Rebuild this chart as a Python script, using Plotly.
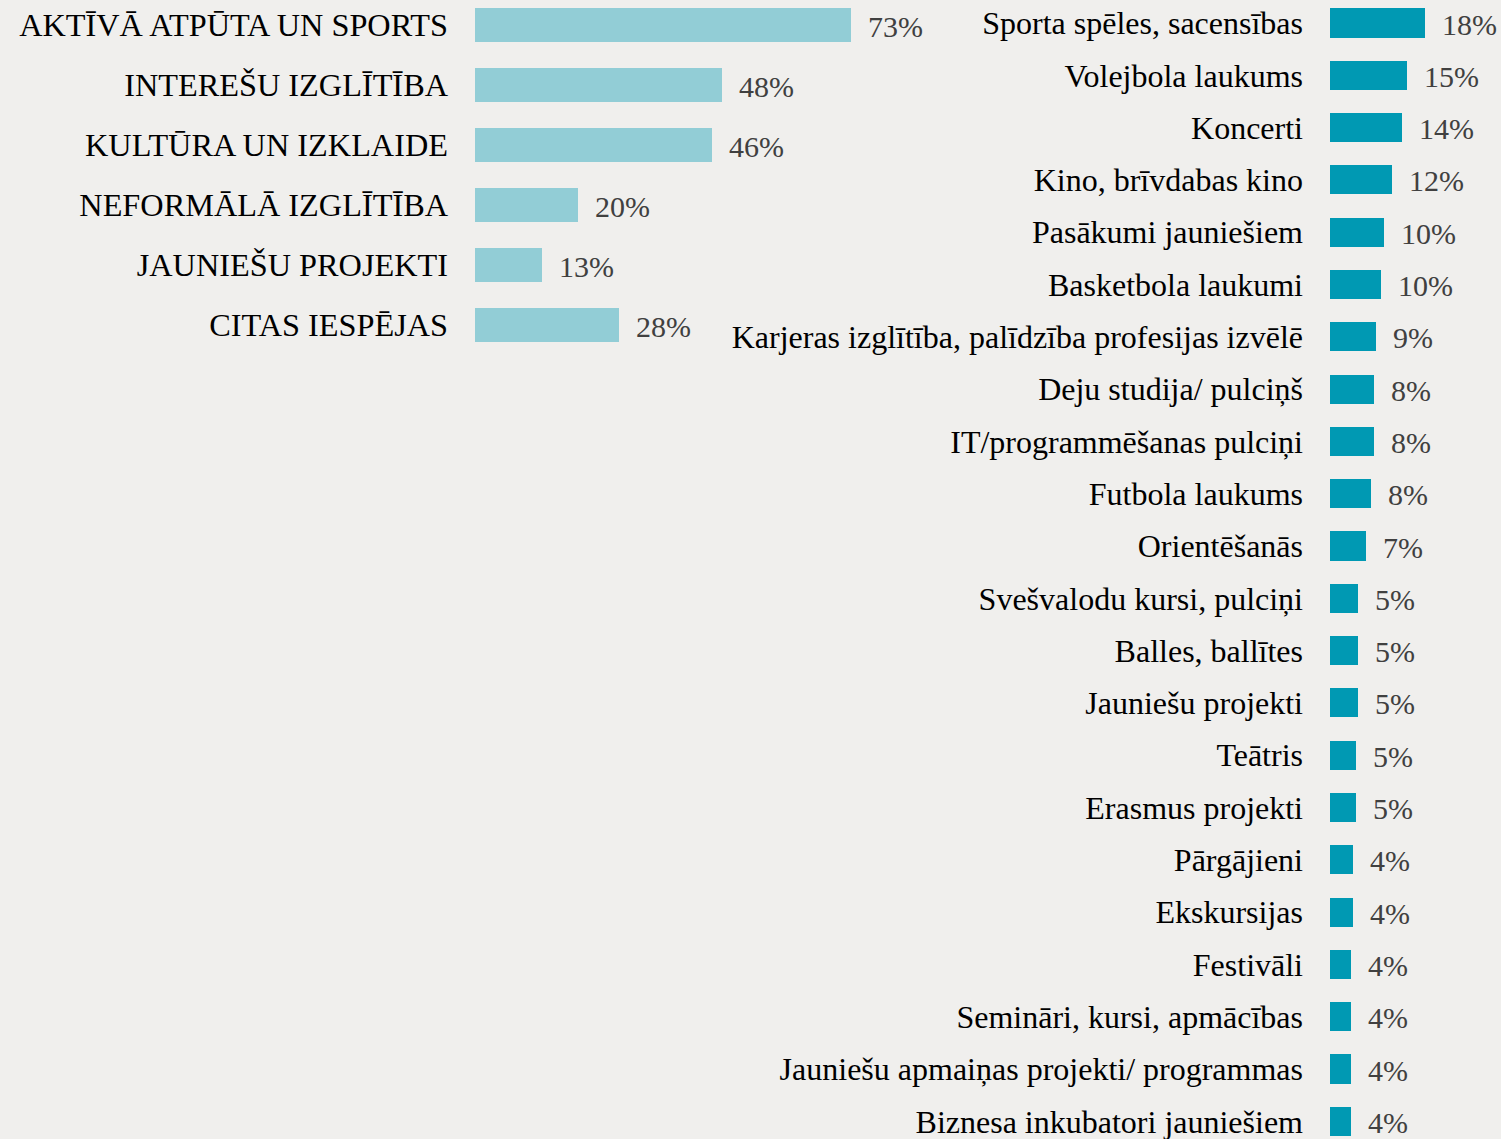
import plotly.graph_objects as go

# Left chart data
left_categories = ["AKTĪVĀ ATPŪTA UN SPORTS", "INTEREŠU IZGLĪTĪBA", "KULTŪRA UN IZKLAIDE",
                   "NEFORMĀLĀ IZGLĪTĪBA", "JAUNIEŠU PROJEKTI", "CITAS IESPĒJAS"]
left_values = [73, 48, 46, 20, 13, 28]

# Right chart data
right_categories = ["Sporta spēles, sacensības", "Volejbola laukums", "Koncerti",
                    "Kino, brīvdabas kino", "Pasākumi jauniešiem", "Basketbola laukumi",
                    "Karjeras izglītība, palīdzība profesijas izvēlē", "Deju studija/ pulciņš",
                    "IT/programmēšanas pulciņi", "Futbola laukums", "Orientēšanās",
                    "Svešvalodu kursi, pulciņi", "Balles, ballītes", "Jauniešu projekti",
                    "Teātris", "Erasmus projekti", "Pārgājieni", "Ekskursijas", "Festivāli",
                    "Semināri, kursi, apmācības", "Jauniešu apmaiņas projekti/ programmas",
                    "Biznesa inkubatori jauniešiem"]
right_values = [18.3, 14.8, 13.8, 11.9, 10.4, 9.8, 8.8, 8.5, 8.5, 7.9, 6.9,
                5.4, 5.4, 5.4, 5.0, 5.0, 4.4, 4.4, 4.0, 4.0, 4.0, 4.0]

BG = "#F0EFED"
FONT = "Liberation Serif, Times New Roman, serif"
W, H = 1501, 1139

fig = go.Figure()
fig.add_trace(go.Bar(x=left_values, y=left_categories, orientation="h",
                     marker=dict(color="#92CDD6", line=dict(width=0)),
                     width=0.56, xaxis="x", yaxis="y", hoverinfo="x+y"))
fig.add_trace(go.Bar(x=right_values, y=right_categories, orientation="h",
                     marker=dict(color="#0099B3", line=dict(width=0)),
                     width=0.555, xaxis="x2", yaxis="y2", hoverinfo="x+y"))

annotations = []
for c, v in zip(left_categories, left_values):
    annotations.append(dict(x=v, y=c, xref="x", yref="y", text=f"{round(v)}%",
                            showarrow=False, xanchor="left", xshift=15, yshift=-1,
                            font=dict(family=FONT, size=30, color="#404040")))
for c, v in zip(right_categories, right_values):
    annotations.append(dict(x=v, y=c, xref="x2", yref="y2", text=f"{round(v)}%",
                            showarrow=False, xanchor="left", xshift=15, yshift=-1,
                            font=dict(family=FONT, size=30, color="#404040")))

left_px_per = 5.15
right_px_per = 5.2
lx0 = 475 / W
lx1 = 0.60
rx0 = 1330 / W
rx1 = 1.0

fig.update_layout(
    width=W, height=H,
    margin=dict(l=0, r=0, t=0, b=0),
    paper_bgcolor=BG, plot_bgcolor=BG,
    showlegend=False,
    bargap=0,
    font=dict(family=FONT, size=31, color="#000000"),
    annotations=annotations,
    xaxis=dict(domain=[lx0, lx1], range=[0, (lx1 - lx0) * W / left_px_per],
               visible=False, fixedrange=True),
    yaxis=dict(domain=[0, 1], anchor="x", type="category",
               categoryorder="array", categoryarray=left_categories,
               range=[-25 / 60 + H / 60, -25 / 60],
               showgrid=False, zeroline=False, showline=False, ticks="",
               ticklabelstandoff=26,
               tickfont=dict(family=FONT, size=32.3, color="#000000")),
    xaxis2=dict(domain=[rx0, rx1], range=[0, (rx1 - rx0) * W / right_px_per],
                visible=False, fixedrange=True, anchor="y2"),
    yaxis2=dict(domain=[0, 1], anchor="x2", type="category",
                categoryorder="array", categoryarray=right_categories,
                range=[-23 / 52.3 + H / 52.3, -23 / 52.3],
                showgrid=False, zeroline=False, showline=False, ticks="",
                ticklabelstandoff=26,
                tickfont=dict(family=FONT, size=32, color="#000000")),
)

fig.write_html("out.html",
               config={"displayModeBar": False},
               post_script="document.body.style.margin='0';document.body.style.overflow='hidden';"
                           "document.body.style.background='" + BG + "';")
